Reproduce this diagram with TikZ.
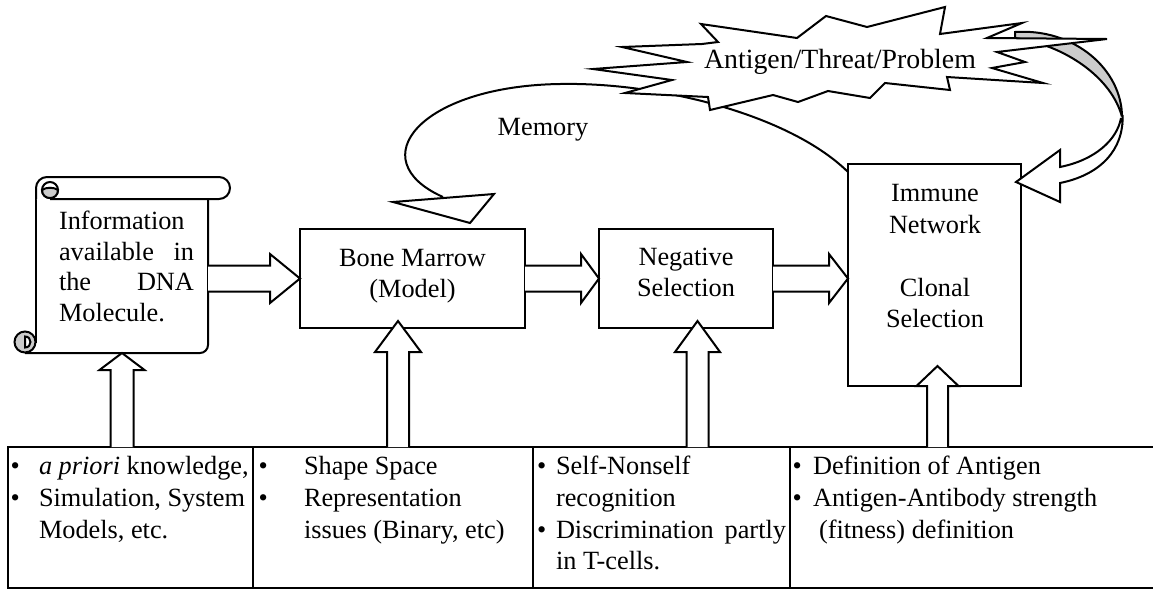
\documentclass[tikz,border=0pt]{standalone}
\usepackage{fontspec}
\setmainfont{Liberation Serif}
\usetikzlibrary{calc}
\newcommand\hblk[3]{\draw[blk] ($(#1)+(0,-13)$) -- ($(#2)+(-#3,-13)$) -- ($(#2)+(-#3,-24.5)$) -- (#2) -- ($(#2)+(-#3,24.5)$) -- ($(#2)+(-#3,13)$) -- ($(#1)+(0,13)$);}
\newcommand\vblk[5]{\draw[blk] ($(#1)+(-#5,0)$) -- ($(#2)+(-#5,#3)$) -- ($(#2)+(-#4,#3)$) -- (#2) -- ($(#2)+(#4,#3)$) -- ($(#2)+(#5,#3)$) -- ($(#1)+(#5,0)$);}
\begin{document}
\begin{tikzpicture}[x=1pt,y=-1pt,line width=2pt,line join=miter,
  font=\fontsize{26.3}{31.5}\selectfont,
  box/.style={draw, fill=white, inner sep=0pt, outer sep=0pt},
  blk/.style={draw, fill=white},
  txt/.style={inner sep=0pt, align=center},
  cell/.style={anchor=base west, inner sep=0pt},
  celle/.style={anchor=base east, inner sep=0pt},
  tcell/.style={draw, anchor=north west, inner sep=0pt, outer sep=0pt, minimum height=141pt}]
\useasboundingbox (0,0) rectangle (1153,590);

% main boxes
\node[box, minimum width=225pt, minimum height=99pt] (bone) at (412.5,278.5) {};
\node[box, minimum width=174pt, minimum height=99pt] (neg) at (686,278.5) {};
\node[box, minimum width=173pt, minimum height=222pt] (immune) at (934.5,275) {};
\node[inner sep=0pt, outer sep=0pt, minimum width=172pt, minimum height=154pt] (scroll) at (122,276) {};

% memory curve (behind the burst)
\coordinate (memstart) at ($(immune.north west)+(0,8)$);
\coordinate (memend) at (443,197);
\draw (memstart) .. controls (790,115) and (660,82) .. (560,84)
      .. controls (420,86) and (360,160) .. (memend);

% curved gray arrow into immune box
\coordinate (immtip) at ($(immune.north east)+(-5,18)$);
\draw[fill=gray!40] (1015,32) .. controls (1075,28) and (1122,70) .. (1122,117)
      .. controls (1112,78) and (1065,45) .. (1015,38) -- cycle;
\draw[fill=white] (1122.5,115) .. controls (1124,150) and (1100,175) .. (1060,183)
      -- (1060,202) -- (immtip) -- (1060,150) -- (1060,167)
      .. controls (1095,160) and (1117,140) .. (1121,118);

% burst
\draw[fill=white] (701,24) -- (797,38) -- (826,16) -- (867,27) -- (945,7) -- (940,34)
  -- (1022,23) -- (987,38) -- (1107,39) -- (997,52) -- (1025,62) -- (992,68)
  -- (1043,83) -- (947,77) -- (950,90) -- (885,83) -- (870,98) -- (828,91)
  -- (798,102) -- (773,95) -- (710,110) -- (708,97) -- (625,93) -- (672,80)
  -- (593,69) -- (687,62) -- (622,47) -- (702,44) -- (718,42) -- cycle;
\node[txt, anchor=base, font=\fontsize{27.8}{32}\selectfont] (antigen) at (840,68) {Antigen/Threat/Problem};

% memory arrowhead and label
\draw[fill=white] (393,202) -- (494,194) -- (470,223) -- cycle;
\node[txt, anchor=base] (memory) at (543,135) {Memory};

% scroll
\fill[white] (36,199) rectangle (208,353);
\draw (36,188) -- (36,343);
\draw[rounded corners=8pt] (25,353) -- (208,353) -- (208,199);
\draw[fill=white, rounded corners=11pt] (36,199) -- (36,177) -- (230,177) -- (230,199) -- (50,199);
\draw[fill=white] (50,190) circle[radius=8];
\draw[fill=gray!40] (42,190) .. controls (42,200.7) and (58,200.7) .. (58,190)
      .. controls (54,187) and (46,187) .. (42,190) -- cycle;
\draw[fill=gray!40] (25,342) circle[radius=10.5];
\draw[fill=white] (25,336.5) .. controls (32.3,336.5) and (32.3,347.5) .. (25,347.5) -- cycle;
\node[anchor=north west, inner sep=0pt, text width=135pt, align=left,
      font=\fontsize{26.3}{30.5}\selectfont] (scrolltxt) at (58,210)
  {Information\\available\hfill in\\the\hfill DNA\\Molecule.};

% box texts
\node[txt] (bonetxt) at (412.5,276) {Bone Marrow\\(Model)};
\node[txt] (negtxt) at (686,272.5) {Negative\\Selection};
\node[txt] (immtxt) at (935,256.5) {Immune\\Network\\[31.5pt]Clonal\\Selection};

% horizontal block arrows
\hblk{scroll.east |- bone.west}{bone.west}{30}
\hblk{bone.east}{neg.west}{18}
\hblk{neg.east}{immune.west |- neg.east}{19}

% table
\node[tcell, minimum width=245pt] (c1) at (8,447) {};
\node[tcell, minimum width=280pt] (c2) at (253,447) {};
\node[tcell, minimum width=257pt] (c3) at (533,447) {};
\coordinate (c4ne) at (1153,447);
\coordinate (c4se) at (1153,588);
\draw (c3.north east) -- (c4ne);
\draw (c3.south east) -- (c4se);

% vertical block arrows
\coordinate (t1) at (scroll.south);
\coordinate (t2) at (398,321);
\coordinate (t3) at (697.5,321);
\coordinate (t4) at ($(immune.south)+(3,-20)$);
\vblk{t1 |- c1.north}{t1}{17}{22.5}{11.5}
\vblk{t2 |- c2.north}{t2}{31}{23}{11}
\vblk{t3 |- c3.north}{t3}{31}{22.5}{11}
\vblk{t4 |- c4ne}{t4}{20}{21}{10.5}

% table texts
\node[cell] (b1a) at (9.5,474) {•};
\node[cell] (t1a) at (38,474) {\textit{a priori} knowledge,};
\node[cell] (b1b) at (9.5,506) {•};
\node[cell] (t1b) at (38,506) {Simulation, System};
\node[cell] (t1c) at (38,538) {Models, etc.};

\node[cell] (b2a) at (257.5,474) {•};
\node[cell] (t2a) at (303,474) {Shape Space};
\node[cell] (b2b) at (257.5,506) {•};
\node[cell] (t2b) at (303,506) {Representation};
\node[cell] (t2c) at (303,538) {issues (Binary, etc)};

\node[cell] (b3a) at (536,474) {•};
\node[cell] (t3a) at (555,474) {Self-Nonself};
\node[cell] (t3b) at (555,506) {recognition};
\node[cell] (b3c) at (536,538) {•};
\node[cell] (t3c) at (555,538) {Discrimination};
\node[celle] (t3d) at (787,538) {partly};
\node[cell] (t3e) at (555,569) {in T-cells.};

\node[cell] (b4a) at (791.5,474) {•};
\node[cell] (t4a) at (812,474) {Definition of Antigen};
\node[cell] (b4b) at (791.5,506) {•};
\node[cell] (t4b) at (812,506) {Antigen-Antibody strength};
\node[cell] (t4c) at (818,538) {(fitness) definition};
\end{tikzpicture}
\end{document}
